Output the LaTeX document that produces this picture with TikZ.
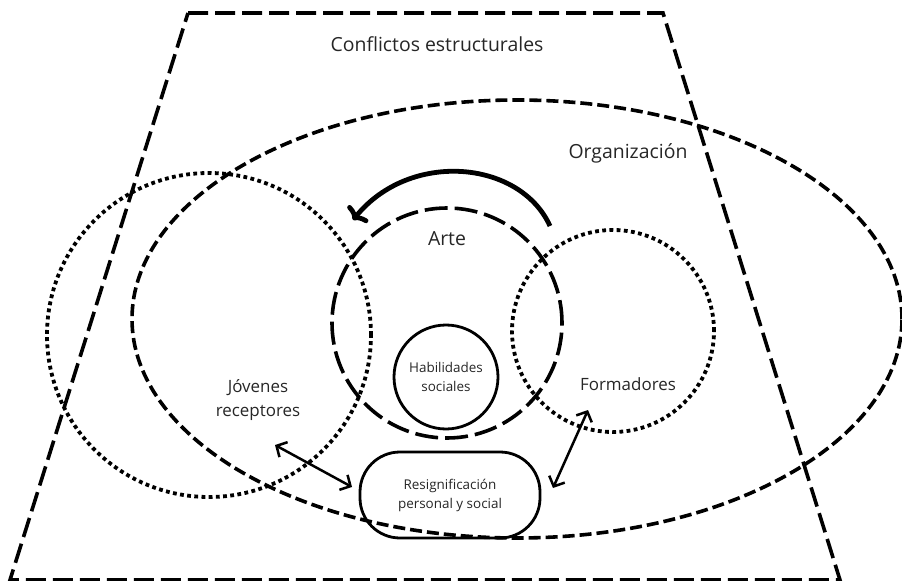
\documentclass[tikz,border=0pt]{standalone}
\usepackage{fontspec}
\setmainfont{Open Sans}
\usetikzlibrary{arrows.meta,shapes.geometric}
\begin{document}
\begin{tikzpicture}[x=1bp,y=-1bp,
  txt/.style={text=black!85, inner sep=0pt, align=center},
  big/.style={txt, font=\fontsize{19.5}{24}\selectfont},
  mid/.style={txt, font=\fontsize{17}{24}\selectfont},
  small/.style={txt, font=\fontsize{13.5}{19}\selectfont},
  trapline/.style={line width=3.6bp, dash pattern=on 20bp off 7bp},
  orgline/.style={draw, line width=3.6bp, dash pattern=on 12bp off 5bp},
  arteline/.style={draw, line width=3.6bp, dash pattern=on 23bp off 7bp},
  dotline/.style={draw, line width=3.8bp, dash pattern=on 3.8bp off 3.4bp},
  solidline/.style={draw, line width=2.8bp},
  dblarrow/.style={line width=2.5bp, {Straight Barb[length=8bp,width=17bp]}-{Straight Barb[length=8bp,width=17bp]}},
  bigarrow/.style={line width=4.8bp, -{To[length=10bp,width=26bp]}}
]
\useasboundingbox (0,0) rectangle (902,581);
% trapezoid
\coordinate (tl) at (188,13);
\coordinate (tr) at (663,13);
\coordinate (br) at (840,580);
\coordinate (bl) at (10,580);
\draw[trapline] (tl) -- (tr) -- (br) -- (bl) -- cycle;
% organisation ellipse
\node[ellipse, orgline, minimum width=770bp, minimum height=438bp, inner sep=0pt] (org) at (517,319) {};
% dotted circles
\node[circle, dotline, minimum size=324bp, inner sep=0pt] (jov) at (209,335) {};
\node[circle, dotline, minimum size=202bp, inner sep=0pt] (form) at (613,331) {};
% arte circle
\node[circle, arteline, minimum size=230bp, inner sep=0pt] (arte) at (447,323) {};
% habilidades
\node[circle, solidline, minimum size=104bp, inner sep=0pt] (hab) at (446,377) {};
\node[small] (habtxt) at (446,377) {Habilidades\\sociales};
% resignificacion
\node[rectangle, solidline, rounded corners=40bp, minimum width=180bp, minimum height=86bp, inner sep=0pt] (res) at (450,495) {};
\node[small] (restxt) at (450,495) {Resignificación\\personal y social};
% labels
\node[big] (conf) at (437,44) {Conflictos estructurales};
\node[big] (orgtxt) at (628,153) {Organización};
\node[big] (artetxt) at (447,239) {Arte};
\node[mid] (jovtxt) at (258,400) {Jóvenes\\receptores};
\node[mid] (formtxt) at (628,384) {Formadores};
% arrows
\coordinate (a1s) at (275,445);
\coordinate (a1e) at (352,487);
\coordinate (a2s) at (588,410);
\coordinate (a2e) at (553,488);
\draw[dblarrow] (a1s) -- (a1e);
\draw[dblarrow] (a2s) -- (a2e);
\coordinate (cs) at (550,226);
\coordinate (ce) at (353,220);
\draw[bigarrow] (cs) .. controls (520,160) and (410,150) .. (ce);
\end{tikzpicture}
\end{document}
